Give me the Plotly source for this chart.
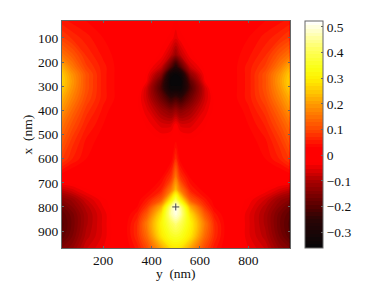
import plotly.graph_objects as go

y_nm = [30, 70, 130, 200, 270, 340, 380, 440, 480, 500, 520, 560, 620, 660, 730, 800, 870, 930, 970]
x_nm = [30, 100, 170, 220, 250, 280, 310, 350, 400, 460, 530, 600, 680, 730, 770, 800, 830, 870, 920, 970]
field = [
 [.05,.04,.03,.02,.0,.0,.0,-.01,-.02,-.03,-.02,-.01,.0,.0,.0,.02,.03,.04,.05],
 [.09,.07,.05,.03,.01,.0,-.01,-.02,-.03,-.05,-.03,-.02,-.01,.0,.01,.03,.05,.07,.09],
 [.15,.12,.07,.04,.02,.0,-.01,-.03,-.08,-.12,-.08,-.03,-.01,.0,.02,.04,.07,.12,.15],
 [.22,.16,.09,.05,.02,.01,-.02,-.07,-.20,-.27,-.20,-.07,-.02,.01,.02,.05,.09,.16,.22],
 [.25,.19,.11,.05,.02,.0,-.03,-.13,-.33,-.35,-.33,-.13,-.03,.0,.02,.05,.11,.19,.25],
 [.26,.20,.11,.05,.02,.0,-.04,-.19,-.36,-.36,-.36,-.19,-.04,.0,.02,.05,.11,.20,.26],
 [.25,.19,.11,.05,.02,.0,-.07,-.21,-.34,-.34,-.34,-.21,-.07,.0,.02,.05,.11,.19,.25],
 [.22,.17,.10,.05,.02,-.02,-.07,-.17,-.24,-.22,-.24,-.17,-.07,-.02,.02,.05,.10,.17,.22],
 [.19,.14,.08,.04,.01,-.02,-.05,-.11,-.14,-.12,-.14,-.11,-.05,-.02,.01,.04,.08,.14,.19],
 [.15,.11,.06,.03,.01,.0,-.03,-.06,-.06,-.03,-.06,-.06,-.03,.0,.01,.03,.06,.11,.15],
 [.12,.08,.04,.02,.01,.0,-.01,-.02,-.01,.03,-.01,-.02,-.01,.0,.01,.02,.04,.08,.12],
 [.09,.06,.03,.01,.0,.0,.0,.0,.02,.07,.02,.0,.0,.0,.0,.01,.03,.06,.09],
 [.01,.0,.0,.0,.0,.01,.02,.03,.08,.16,.08,.03,.02,.01,.0,.0,.0,.0,.01],
 [-.08,-.06,-.03,-.01,.0,.01,.02,.06,.16,.24,.16,.06,.02,.01,.0,-.01,-.03,-.06,-.08],
 [-.14,-.12,-.07,-.03,-.01,.02,.05,.12,.30,.40,.30,.12,.05,.02,-.01,-.03,-.07,-.12,-.14],
 [-.17,-.14,-.09,-.04,.0,.03,.08,.22,.44,.52,.44,.22,.08,.03,.0,-.04,-.09,-.14,-.17],
 [-.19,-.16,-.10,-.05,.0,.05,.12,.28,.46,.50,.46,.28,.12,.05,.0,-.05,-.10,-.16,-.19],
 [-.20,-.165,-.10,-.05,.0,.07,.16,.31,.40,.43,.40,.31,.16,.07,.0,-.05,-.10,-.165,-.20],
 [-.19,-.155,-.09,-.05,.0,.07,.14,.29,.35,.36,.35,.29,.14,.07,.0,-.05,-.09,-.155,-.19],
 [-.15,-.13,-.07,-.04,.0,.05,.10,.21,.28,.29,.28,.21,.10,.05,.0,-.04,-.07,-.13,-.15],
]
x_ticks = [200, 400, 600, 800]
y_ticks = [100, 200, 300, 400, 500, 600, 700, 800, 900]
cb_ticks = [-.3, -.2, -.1, 0, .1, .2, .3, .4, .5]
cb_labels = ["−0.3", "−0.2", "−0.1", "0", "0.1", "0.2", "0.3", "0.4", "0.5"]
marker_y, marker_x = [500], [800]

zmin, zmax = -.362, .523
stops = [(-.362,"#060608"),(-.25,"#2a0505"),(-.2,"#550000"),(-.1,"#aa0000"),(-.03,"#ff0000"),
         (.03,"#ff0000"),(.05,"#ff1400"),(.1,"#ff4600"),(.15,"#ff7000"),(.2,"#ff9a00"),(.25,"#ffc800"),
         (.3,"#fff000"),(.34,"#faff14"),(.42,"#ffff64"),(.523,"#ffffff")]
scale = [[(v-zmin)/(zmax-zmin), c] for v, c in stops]

W, H = 374, 281
L, R, T, B = 62, 289.5, 21, 248
serif = '"Liberation Serif", "Times New Roman", serif'
axc = "#666666"
fs = 13.5

fig = go.Figure()
fig.add_trace(go.Contour(
    x=y_nm, y=x_nm, z=field, colorscale=scale, zmin=zmin, zmax=zmax, autocontour=False,
    contours=dict(start=zmin, end=zmax, size=.014, coloring="fill", showlines=False),
    line=dict(width=0),
    colorbar=dict(thickness=18, thicknessmode="pixels", len=(B-T)/H, lenmode="fraction",
                  x=305/W, xanchor="left", xpad=0, y=1-T/H, yanchor="top", ypad=0,
                  tickmode="array", tickvals=cb_ticks, ticktext=cb_labels, ticks="inside", ticklen=2,
                  tickcolor=axc, outlinecolor=axc, outlinewidth=1,
                  tickfont=dict(family=serif, size=fs, color="#111111")),
))
fig.add_trace(go.Scatter(x=marker_y, y=marker_x, mode="markers", showlegend=False,
    marker=dict(symbol="cross-thin", size=5, line=dict(color="#444444", width=1))))
axis = dict(ticks="inside", ticklen=2, tickcolor=axc, showgrid=False, zeroline=False, showline=True,
            linecolor=axc, linewidth=1, mirror="ticks", tickfont=dict(family=serif, size=fs, color="#111111"))
fig.update_layout(
    width=W, height=H, margin=dict(l=0, r=0, t=0, b=0, autoexpand=False),
    paper_bgcolor="white", plot_bgcolor="white", showlegend=False, font=dict(family=serif),
    xaxis=dict(axis, domain=[L/W, R/W], range=[30, 970], tickvals=x_ticks,
               title=dict(text="y\u00a0\u00a0(nm)", font=dict(family=serif, size=fs, color="#111111"), standoff=0)),
    yaxis=dict(axis, domain=[1-B/H, 1-T/H], range=[970, 30], tickvals=y_ticks,
               title=dict(text="x\u00a0\u00a0(nm)", font=dict(family=serif, size=fs, color="#111111"), standoff=2)),
)
fig.write_html("out.html", config=dict(displayModeBar=False), post_script="document.body.style.margin='0';")
